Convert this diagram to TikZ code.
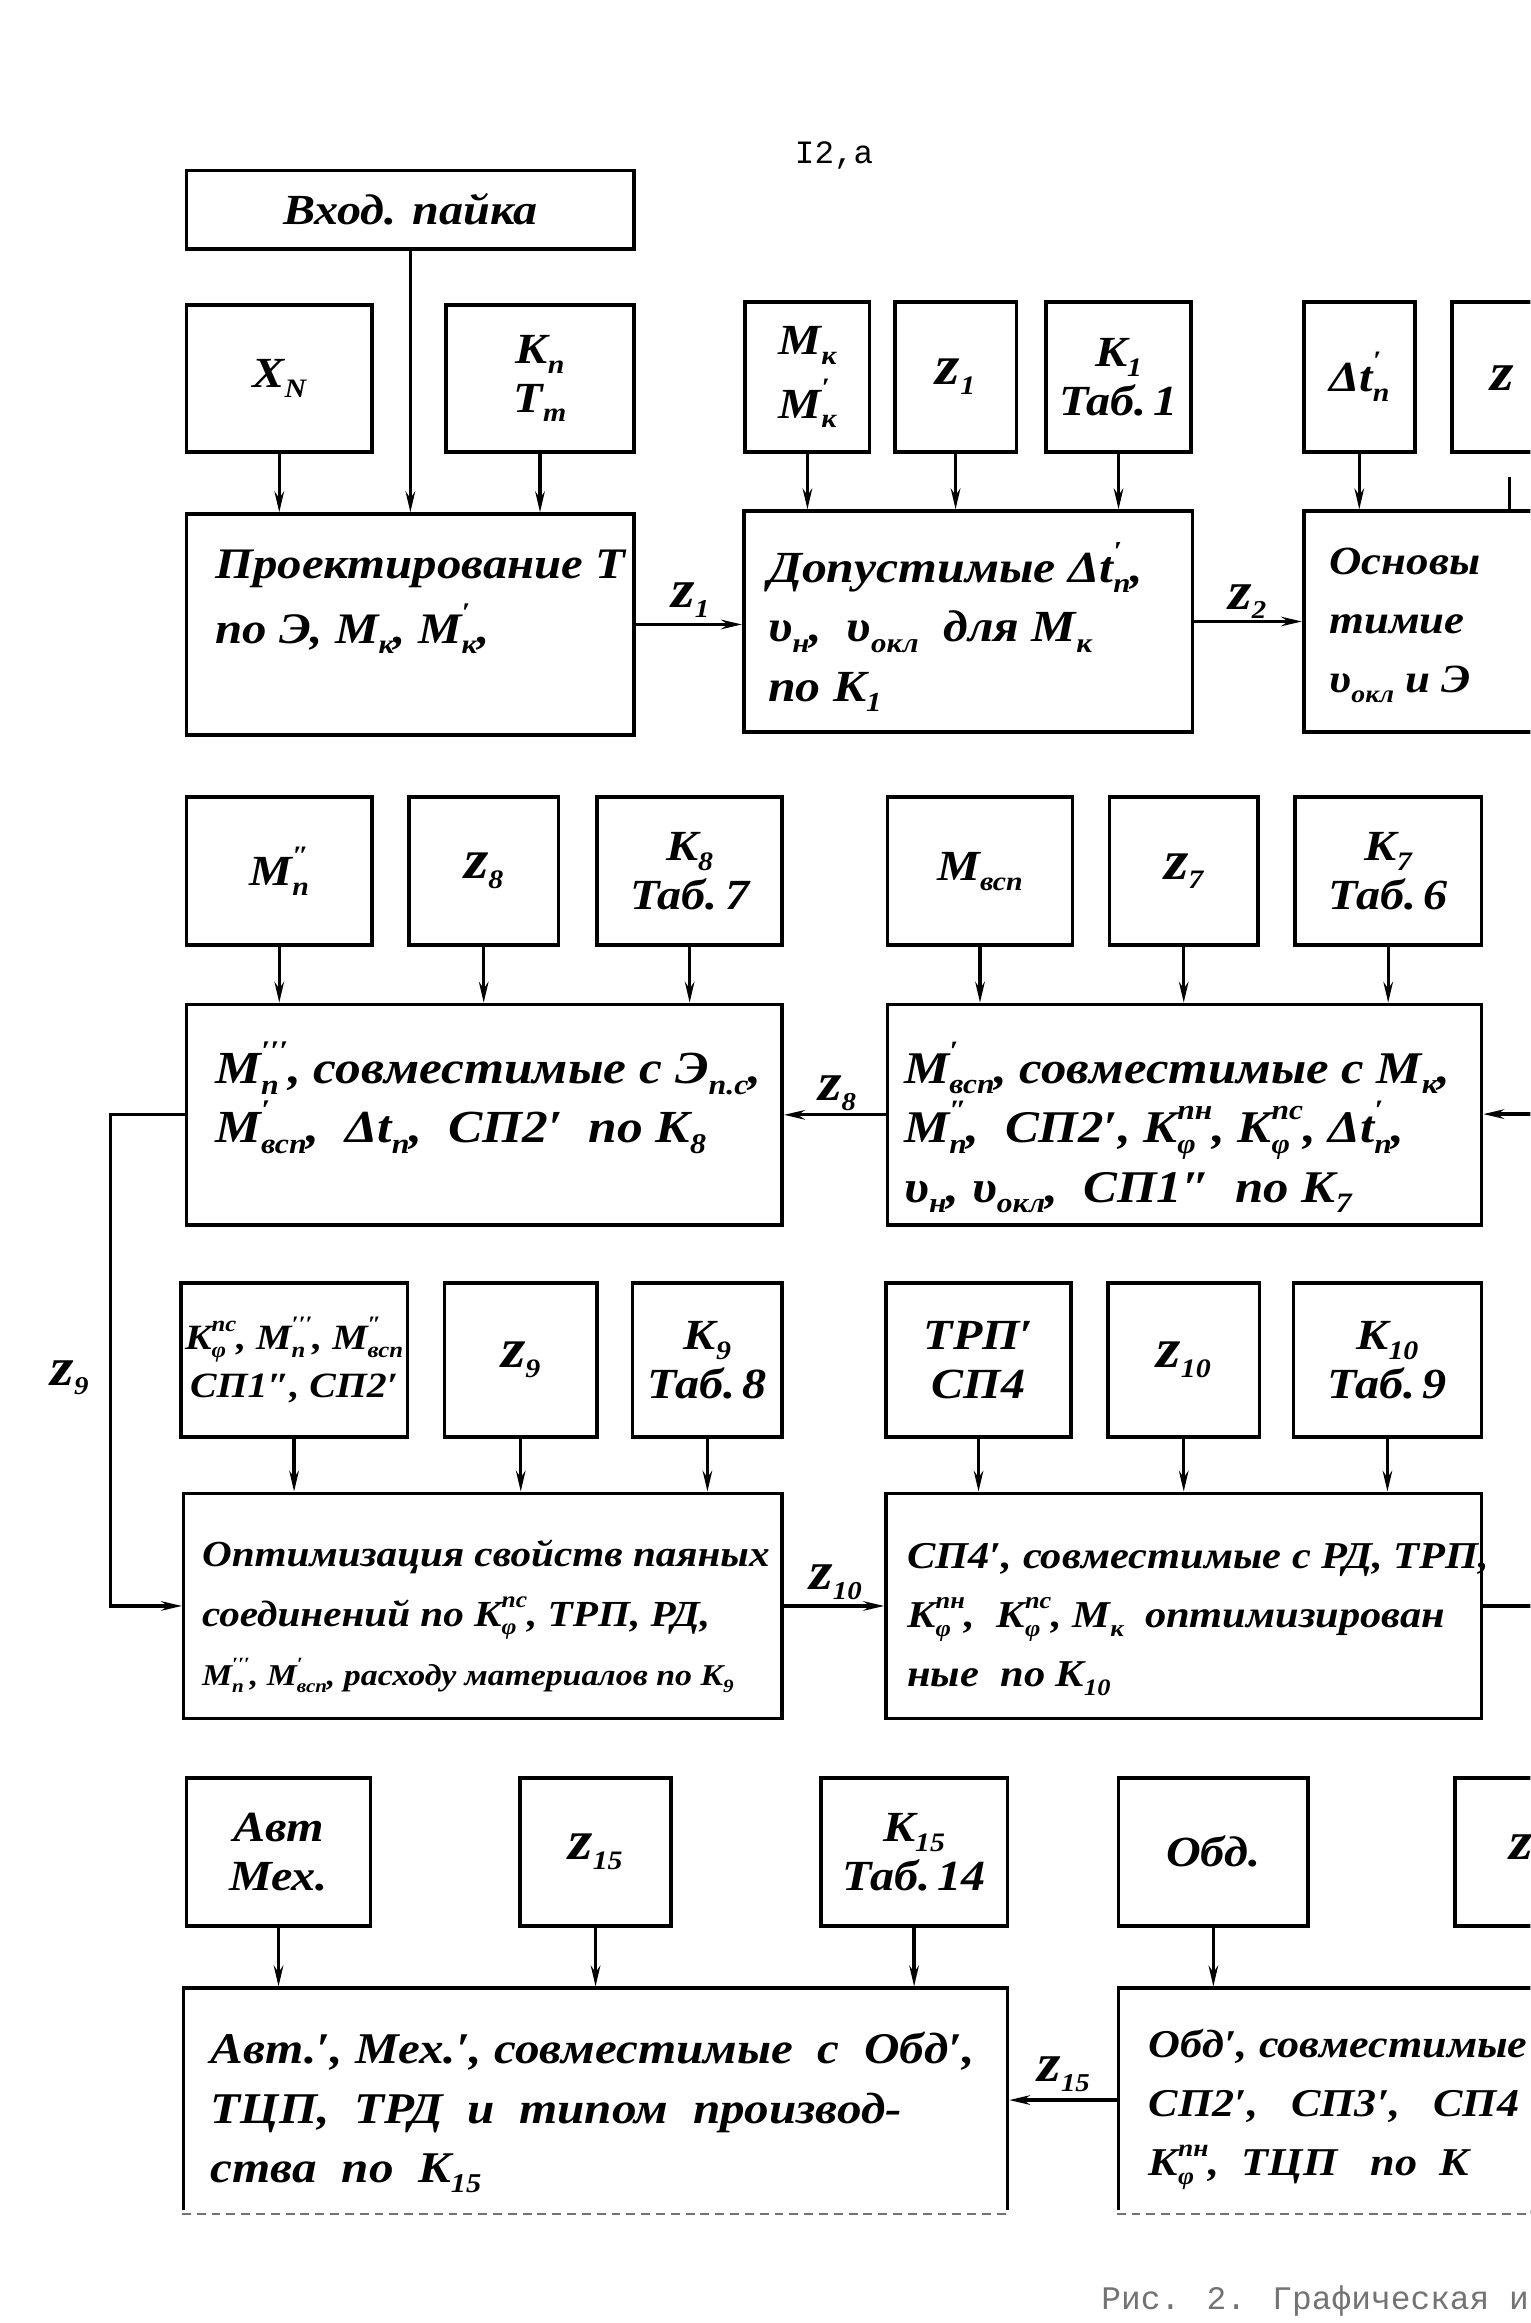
\documentclass[tikz,border=0pt]{standalone}
\usepackage{fontspec}
\usepackage{graphicx}
\usetikzlibrary{arrows.meta,calc}
\newfontfamily\hand{Liberation Serif}[FakeStretch=1.12]
\newfontfamily\typew{Liberation Mono}
\newcommand{\dn}[1]{\raisebox{-0.5ex}{\scalebox{0.62}{#1}}}
\newcommand{\up}[1]{\raisebox{1.1ex}{\scalebox{0.62}{#1}}}
\newcommand{\ud}[2]{\begingroup\setbox0=\hbox{\up{#1}}\setbox2=\hbox{\dn{#2}}\ifdim\wd0>\wd2\relax\rlap{\copy2}\copy0\else\rlap{\copy0}\copy2\fi\endgroup}
\newcommand{\zz}[1]{\scalebox{1.3}{z}\dn{#1}}
\newcommand{\mkbox}[7][]{\node[box,#1,minimum width={(#5-#3)*0.5pt},minimum height={(#6-#4)*0.5pt}] (#2) at ({(#3+#5)/2},{(#4+#6)/2}) {#7};}
\tikzset{
  box/.style={draw, line width=1.2pt, align=center, inner sep=1pt,
    font={\hand\bfseries\itshape\fontsize{14.5pt}{16.5pt}\selectfont}},
  smallfont/.style={font={\hand\bfseries\itshape\fontsize{12pt}{16pt}\selectfont}},
  txt/.style={anchor=west, align=left, inner sep=0pt,
    font={\hand\bfseries\itshape\fontsize{#1}{20pt}\selectfont}},
  txt/.default=13.5pt,
  lab/.style={inner sep=0pt, font={\hand\bfseries\itshape\fontsize{14pt}{14pt}\selectfont}},
  arr/.style={line width=1.1pt, -{Stealth[length=7pt,width=3.2pt]}},
  ln/.style={line width=1.1pt},
  faint/.style={line width=0.8pt, densely dashed, black!55}
}
\begin{document}
\begin{tikzpicture}[x=0.5pt,y=-0.5pt]
\useasboundingbox (0,0) rectangle (1033,1568);
\fill[white] (0,0) rectangle (1033,1568);
\clip (0,0) rectangle (1033,1568);

\node[inner sep=0pt, font={\typew\fontsize{11pt}{12pt}\selectfont}] (title) at (563,105) {I2,а};

% ---------- row 1 ----------
\mkbox{bIn}{126}{115}{428}{168}{Вход. пайка}
\mkbox{bXN}{126}{206}{251}{305}{X\dn{N}}
\mkbox{bKT}{301}{206}{428}{305}{K\dn{п}\\T\dn{т}}
\mkbox{bMk}{503}{204}{587}{305}{M\dn{к}\\[4pt]M\ud{′}{к}}
\mkbox{bZ1}{604}{204}{686}{305}{\zz{1}}
\mkbox{bK1}{706}{204}{804}{305}{K\dn{1}\\Таб.\,1}
\mkbox{bDt}{880}{204}{955}{305}{Δt\ud{′}{п}}
\mkbox{bZ3}{980}{204}{1090}{305}{}
\node[lab] (tZ3) at (1014,255) {\scalebox{1.3}{z}};

\mkbox{bP1}{126}{347}{428}{496}{}
\mkbox{bD1}{502}{345}{805}{494}{}
\mkbox{bO1}{880}{345}{1090}{494}{}
\node[txt=14.7pt] (tP1) at (145,406) {Проектирование Т\\[2pt]по Э, M\dn{к}, M\ud{′}{к},};
\node[txt=15pt] (tD1) at (518,423) {Допустимые Δt\ud{′}{п},\\υ\dn{н}, \ υ\dn{окл} \ для M\dn{к}\\по K\dn{1}};
\node[txt=13.5pt] (tO1) at (897,422) {Основы\\тимие\\υ\dn{окл} и Э};

\draw[arr] (bXN.south) -- (bXN.south |- bP1.north);
\draw[arr] (bIn.south) -- (bIn.south |- bP1.north);
\draw[arr] (bKT.south) -- (bKT.south |- bP1.north);
\draw[arr] (bMk.south) -- (bMk.south |- bD1.north);
\draw[arr] (bZ1.south) -- (bZ1.south |- bD1.north);
\draw[arr] (bK1.south) -- (bK1.south |- bD1.north);
\draw[arr] (bDt.south) -- (bDt.south |- bO1.north);
\coordinate (s1) at (1019,322);
\draw[ln] (s1) -- (s1 |- bO1.north);
\draw[arr] (bP1.east) -- (bP1.east -| bD1.west);
\draw[arr] (bD1.east) -- (bD1.east -| bO1.west);
\node[lab] (z1) at (466,405) {\zz{1}};
\node[lab] (z2) at (842,406) {\zz{2}};

% ---------- row 2 ----------
\mkbox{bM2}{126}{538}{251}{638}{M\ud{″}{п}}
\mkbox{bZ8}{276}{538}{377}{638}{\zz{8}}
\mkbox{bK8}{403}{538}{528}{638}{K\dn{8}\\Таб.\,7}
\mkbox{bMv}{599}{538}{724}{638}{M\dn{всп}}
\mkbox{bZ7}{749}{538}{849}{638}{\zz{7}}
\mkbox{bK7}{874}{538}{1000}{638}{K\dn{7}\\Таб.\,6}
\mkbox{bA2}{126}{678}{528}{827}{}
\mkbox{bB2}{599}{678}{1000}{827}{}
\node[txt=15.5pt] (tA2) at (145,741) {M\ud{′′′}{п}, совместимые с Э\dn{п.с},\\M\ud{′}{всп}, \ Δt\dn{п}, \ СП2′ \ по K\dn{8}};
\node[txt=15.3pt] (tB2) at (610,761) {M\ud{′}{всп}, совместимые с M\dn{к},\\M\ud{″}{п}, \ СП2′, K\ud{пн}{φ}, K\ud{пс}{φ}, Δt\ud{′}{п},\\υ\dn{н}, υ\dn{окл}, \ СП1″ \ по K\dn{7}};

\draw[arr] (bM2.south) -- (bM2.south |- bA2.north);
\draw[arr] (bZ8.south) -- (bZ8.south |- bA2.north);
\draw[arr] (bK8.south) -- (bK8.south |- bA2.north);
\draw[arr] (bMv.south) -- (bMv.south |- bB2.north);
\draw[arr] (bZ7.south) -- (bZ7.south |- bB2.north);
\draw[arr] (bK7.south) -- (bK7.south |- bB2.north);
\draw[arr] (bB2.west) -- (bB2.west -| bA2.east);
\coordinate (s2) at (1045,752);
\draw[arr] (s2) -- (s2 -| bB2.east);
\node[lab] (z8) at (565,738) {\zz{8}};

% ---------- row 3 ----------
\mkbox[smallfont]{bK3}{122}{866}{275}{970}{K\ud{пс}{φ}, M\ud{′′′}{п}, M\ud{″}{всп}\\СП1″, СП2′}
\mkbox{bZ9}{300}{866}{403}{970}{\zz{9}}
\mkbox{bK9}{427}{866}{528}{970}{K\dn{9}\\Таб.\,8}
\mkbox{bT3}{598}{866}{723}{970}{ТРП′\\СП4}
\mkbox{bZ10}{748}{866}{850}{970}{\zz{10}}
\mkbox{bK10}{873}{866}{1000}{970}{K\dn{10}\\Таб.\,9}
\mkbox{bOp}{124}{1008}{528}{1160}{}
\mkbox{bS4}{598}{1008}{1000}{1160}{}
\node[txt=12.4pt] (tOp) at (136,1091) {Оптимизация свойств паяных\\соединений по K\ud{пс}{φ}, ТРП, РД,\\{\fontsize{10.2pt}{20pt}\selectfont M\ud{′′′}{п}, M\ud{′}{всп}, расходу материалов по K\dn{9}}};
\node[txt=12.8pt] (tS4) at (612,1093) {СП4′, совместимые с РД, ТРП,\\K\ud{пн}{φ}, \ K\ud{пс}{φ}, M\dn{к} \ оптимизирован\\ные \ по K\dn{10}};

\draw[arr] (bK3.south) -- (bK3.south |- bOp.north);
\draw[arr] (bZ9.south) -- (bZ9.south |- bOp.north);
\draw[arr] (bK9.south) -- (bK9.south |- bOp.north);
\draw[arr] (bT3.south) -- (bT3.south |- bS4.north);
\draw[arr] (bZ10.south) -- (bZ10.south |- bS4.north);
\draw[arr] (bK10.south) -- (bK10.south |- bS4.north);
\draw[arr] (bOp.east) -- (bOp.east -| bS4.west);
\draw[ln] (bS4.east) -- ++(45,0);
\draw[arr] (bA2.west) -- ++(-50,0) |- (bOp.west);
\node[lab] (z9) at (47,930) {\zz{9}};
\node[lab] (z10) at (564,1068) {\zz{10}};

% ---------- row 4 ----------
\mkbox{bAM}{126}{1200}{250}{1300}{Авт\\Мех.}
\mkbox{bZ15}{351}{1200}{453}{1300}{\zz{15}}
\mkbox{bK15}{554}{1200}{680}{1300}{K\dn{15}\\Таб.\,14}
\mkbox{bOb}{755}{1200}{883}{1300}{Обд.}
\mkbox{bZc}{982}{1200}{1090}{1300}{}
\node[lab] (tZc) at (1027,1247) {\scalebox{1.3}{z}};
\mkbox{bAv}{124}{1342}{680}{1493}{}
\mkbox{bOd}{755}{1342}{1090}{1493}{}
\draw[white, line width=2.5pt] (bAv.south west) -- (bAv.south east);
\draw[faint] (bAv.south west) -- (bAv.south east);
\draw[white, line width=2.5pt] (bOd.south west) -- (bOd.south east);
\draw[faint] (bOd.south west) -- (bOd.south east);
\node[txt=14.8pt] (tAv) at (142,1426) {Авт.′, Мех.′, совместимые \ с \ Обд′,\\ТЦП, \ ТРД \ и \ типом \ производ-\\ства \ по \ K\dn{15}};
\node[txt=13.3pt] (tOd) at (775,1424) {Обд′, совместимые\\СП2′, \ \ СП3′, \ \ СП4\\K\ud{пн}{φ}, \ ТЦП \ \ по \ K};

\draw[arr] (bAM.south) -- (bAM.south |- bAv.north);
\draw[arr] (bZ15.south) -- (bZ15.south |- bAv.north);
\draw[arr] (bK15.south) -- (bK15.south |- bAv.north);
\draw[arr] (bOb.south) -- (bOb.south |- bOd.north);
\draw[arr] (bOd.west) -- (bOd.west -| bAv.east);
\node[lab] (z15) at (718,1400) {\zz{15}};

\node[anchor=west, inner sep=0pt, text=black!55, font={\typew\fontsize{11.1pt}{12pt}\selectfont}] (cap) at (743,1553) {Рис. 2. Графическая и};
\end{tikzpicture}
\end{document}
